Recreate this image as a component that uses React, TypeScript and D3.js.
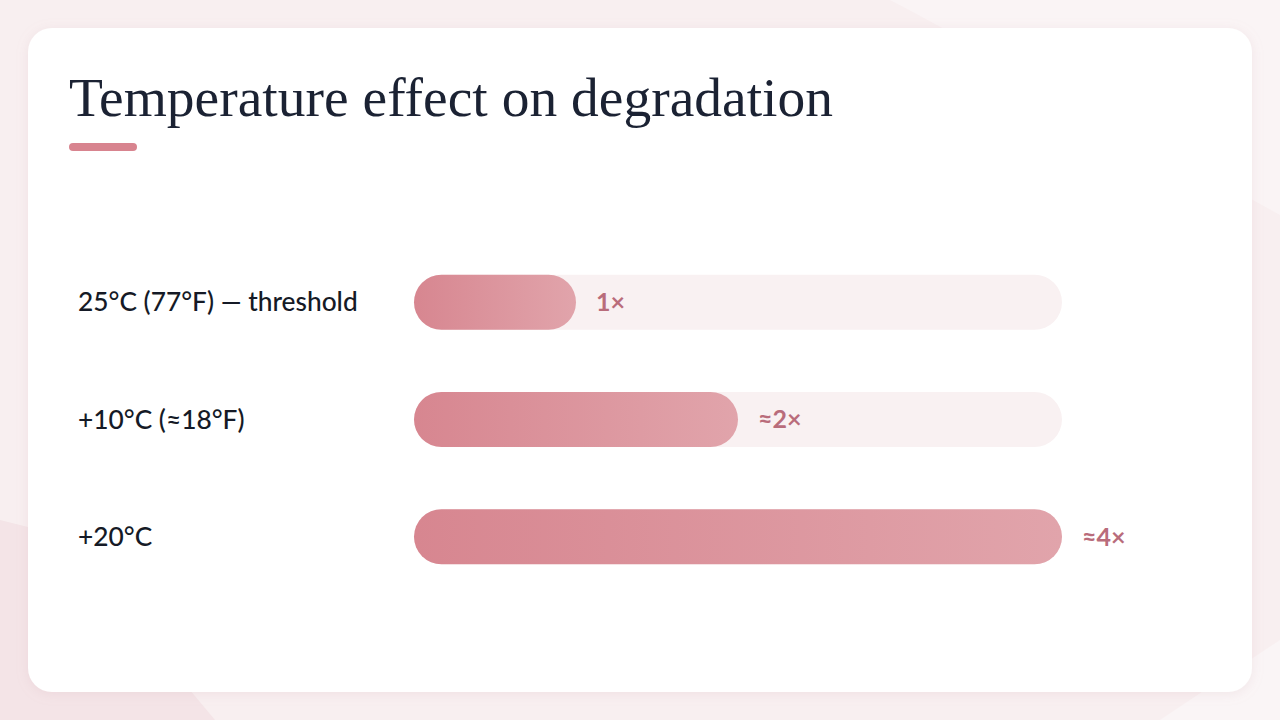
import React, { useEffect, useRef } from "react";
import * as d3 from "d3";

const categories = ["25°C (77°F) — threshold", "+10°C (≈18°F)", "+20°C"];
const factors = [1, 2, 4];
const valueLabels = ["1×", "≈2×", "≈4×"];
const title = "Temperature effect on degradation";

const W = 1280;
const H = 720;

export default function App() {
  const ref = useRef<SVGSVGElement | null>(null);

  useEffect(() => {
    const svg = d3.select(ref.current);
    svg.selectAll("*").remove();

    const defs = svg.append("defs");
    const grad = defs.append("linearGradient").attr("id", "barGrad").attr("x1", "0%").attr("x2", "100%");
    grad.append("stop").attr("offset", "0%").attr("stop-color", "#d78690");
    grad.append("stop").attr("offset", "100%").attr("stop-color", "#e1a4ab");
    const f = defs.append("filter").attr("id", "shadow").attr("x", "-5%").attr("y", "-5%").attr("width", "110%").attr("height", "110%");
    f.append("feDropShadow").attr("dx", 0).attr("dy", 2).attr("stdDeviation", 6).attr("flood-color", "#c9a0a8").attr("flood-opacity", 0.18);

    // background
    svg.append("rect").attr("width", W).attr("height", H).attr("fill", "#f8eff0");
    svg.append("path").attr("d", "M0,520 L60,535 L215,720 L0,720 Z").attr("fill", "#f4e4e7");
    svg.append("path").attr("d", "M890,0 Q930,20 1280,215 L1280,0 Z").attr("fill", "#faf4f5");
    svg.append("path").attr("d", "M1160,720 L1280,640 L1280,720 Z").attr("fill", "#faf5f6");

    // card
    svg.append("rect").attr("x", 28).attr("y", 28).attr("width", 1224).attr("height", 664).attr("rx", 24)
      .attr("fill", "#ffffff").attr("filter", "url(#shadow)");

    // title
    svg.append("text").attr("x", 69).attr("y", 116).text(title)
      .attr("font-family", "'Liberation Serif', 'DejaVu Serif', serif").attr("font-size", 54)
      .attr("textLength", 764).attr("lengthAdjust", "spacingAndGlyphs")
      .attr("fill", "#1b2233");
    svg.append("rect").attr("x", 69).attr("y", 143).attr("width", 68).attr("height", 8).attr("rx", 4).attr("fill", "#d8848f");

    const x = d3.scaleLinear().domain([0, 4]).range([414, 1062]);
    const y = d3.scaleBand().domain(categories).range([243, 596]).paddingInner(0.53).paddingOuter(0.27);
    const bh = 55;

    const g = svg.append("g");
    categories.forEach((c, i) => {
      const cy = (y(c) as number) + y.bandwidth() / 2;
      g.append("rect").attr("x", x(0)).attr("y", cy - bh / 2).attr("width", x(4) - x(0)).attr("height", bh)
        .attr("rx", bh / 2).attr("fill", "#f9f1f2");
      g.append("rect").attr("x", x(0)).attr("y", cy - bh / 2).attr("width", x(factors[i]) - x(0)).attr("height", bh)
        .attr("rx", bh / 2).attr("fill", "url(#barGrad)");
      g.append("text").attr("x", 78).attr("y", cy).attr("dy", "0.35em").text(c)
        .attr("font-family", "Lato, 'Noto Sans', sans-serif").attr("font-size", 26.3).attr("font-weight", 500)
        .attr("fill", "#151a26");
      g.append("text").attr("x", x(factors[i]) + 20).attr("y", cy).attr("dy", "0.35em").text(valueLabels[i])
        .attr("font-family", "Lato, 'Noto Sans', sans-serif").attr("font-size", 25).attr("font-weight", 700)
        .attr("fill", "#b96c7b");
    });
  }, []);

  return (
    <div style={{ position: "fixed", left: 0, top: 0, width: W, height: H }}>
      <svg ref={ref} width={W} height={H} style={{ display: "block" }} />
    </div>
  );
}
